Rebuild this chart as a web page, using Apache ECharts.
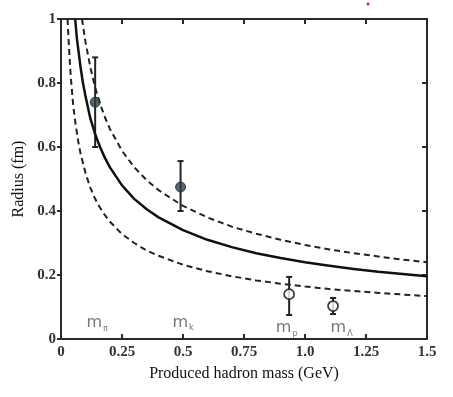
<!DOCTYPE html>
<html><head><meta charset="utf-8">
<script src="https://cdn.jsdelivr.net/npm/echarts@6/dist/echarts.min.js"></script>
<style>html,body{margin:0;padding:0;background:#fff}#c{width:453px;height:397px}</style>
</head><body><div id="c"></div>
<script>
// Curves: [mass (GeV), radius (fm)]
var solidCurve = [[0.058,1.0],[0.065,0.94],[0.07,0.91],[0.08,0.85],[0.09,0.80],[0.1,0.76],[0.12,0.69],[0.14,0.64],[0.16,0.60],[0.18,0.566],[0.2,0.537],[0.25,0.48],[0.3,0.438],[0.35,0.406],[0.4,0.38],[0.5,0.34],[0.6,0.31],[0.7,0.287],[0.8,0.268],[0.9,0.253],[1.0,0.24],[1.1,0.229],[1.2,0.219],[1.3,0.21],[1.4,0.203],[1.5,0.196]];
var upperCurve = [[0.086,1.0],[0.09,0.98],[0.1,0.93],[0.12,0.85],[0.14,0.786],[0.16,0.735],[0.18,0.693],[0.2,0.657],[0.25,0.588],[0.3,0.537],[0.35,0.497],[0.4,0.465],[0.5,0.416],[0.6,0.38],[0.7,0.351],[0.8,0.329],[0.9,0.31],[1.0,0.294],[1.1,0.28],[1.2,0.268],[1.3,0.258],[1.4,0.248],[1.5,0.24]];
var lowerCurve = [[0.027,1.0],[0.03,0.95],[0.035,0.88],[0.04,0.82],[0.05,0.73],[0.06,0.67],[0.07,0.62],[0.08,0.58],[0.1,0.52],[0.12,0.473],[0.14,0.438],[0.16,0.41],[0.18,0.387],[0.2,0.367],[0.25,0.328],[0.3,0.3],[0.35,0.277],[0.4,0.26],[0.5,0.232],[0.6,0.212],[0.7,0.196],[0.8,0.183],[0.9,0.173],[1.0,0.164],[1.1,0.156],[1.2,0.15],[1.3,0.144],[1.4,0.139],[1.5,0.134]];
// Measured points: [mass, radius, low, high]
var filledPoints = [[0.14,0.74,0.60,0.88],[0.49,0.475,0.40,0.556]];
var openPoints = [[0.935,0.14,0.075,0.194],[1.115,0.103,0.078,0.128]];
// Particle mass labels: [mass, radius, name, subscript]
var massLabels = [[0.148,0.05,'m','π'],[0.5,0.052,'m','k'],[0.925,0.034,'m','p'],[1.15,0.034,'m','Λ']];
var xTicks = ['0','0.25','0.5','0.75','1.0','1.25','1.5'];

var chart = echarts.init(document.getElementById('c'), null, {renderer:'canvas'});
var axisFont = {fontFamily:'Liberation Serif', fontWeight:'bold', fontSize:15, color:'#333'};
var lineCol = '#2a2a2a';

function errRender(params, api){
  var x = api.value(0);
  var lo = api.coord([x, api.value(2)]);
  var hi = api.coord([x, api.value(3)]);
  var st = {stroke:'#222', lineWidth:2};
  return {type:'group', children:[
    {type:'line', shape:{x1:lo[0],y1:lo[1],x2:hi[0],y2:hi[1]}, style:st},
    {type:'line', shape:{x1:lo[0]-3,y1:lo[1],x2:lo[0]+3,y2:lo[1]}, style:st},
    {type:'line', shape:{x1:hi[0]-3,y1:hi[1],x2:hi[0]+3,y2:hi[1]}, style:st}
  ]};
}

chart.setOption({
  animation:false,
  backgroundColor:'#fff',
  grid:{left:61, right:26, top:19, bottom:58, containLabel:false},
  xAxis:[{
    type:'value', min:0, max:1.5, interval:0.25,
    axisLine:{show:true, onZero:false, lineStyle:{color:lineCol, width:2}},
    axisTick:{show:true, inside:true, length:5, lineStyle:{color:lineCol, width:2}},
    axisLabel:Object.assign({margin:6, formatter:function(v){var i=Math.round(v/0.25);return xTicks[i];}}, axisFont),
    splitLine:{show:false},
    name:'Produced hadron mass (GeV)', nameLocation:'middle', nameGap:27,
    nameTextStyle:{fontFamily:'Liberation Serif', fontWeight:'normal', fontSize:16, color:'#111'}
  },{
    type:'value', position:'top', min:0, max:1.5, interval:0.25,
    axisLine:{show:true, onZero:false, lineStyle:{color:lineCol, width:2}},
    axisTick:{show:true, inside:true, length:5, lineStyle:{color:lineCol, width:2}},
    axisLabel:{show:false}, splitLine:{show:false}
  }],
  yAxis:[{
    type:'value', min:0, max:1, interval:0.2,
    axisLine:{show:true, onZero:false, lineStyle:{color:lineCol, width:2}},
    axisTick:{show:true, inside:false, length:4, lineStyle:{color:lineCol, width:2}},
    axisLabel:Object.assign({margin:5, formatter:function(v){return v===0?'0':(v===1?'1':v.toFixed(1));}}, axisFont),
    splitLine:{show:false},
    name:'Radius (fm)', nameLocation:'middle', nameGap:33, nameRotate:90,
    nameTextStyle:{fontFamily:'Liberation Serif', fontWeight:'normal', fontSize:16, color:'#111'}
  },{
    type:'value', position:'right', min:0, max:1, interval:0.2,
    axisLine:{show:true, onZero:false, lineStyle:{color:lineCol, width:2}},
    axisTick:{show:true, inside:true, length:5, lineStyle:{color:lineCol, width:2}},
    axisLabel:{show:false}, splitLine:{show:false}
  }],
  series:[
    {type:'line', data:solidCurve, smooth:false, showSymbol:false, clip:true,
     lineStyle:{color:'#111', width:2.5, join:'round'}},
    {type:'line', data:upperCurve, smooth:false, showSymbol:false, clip:true,
     lineStyle:{color:'#222', width:2, type:[6,4]}},
    {type:'line', data:lowerCurve, smooth:false, showSymbol:false, clip:true,
     lineStyle:{color:'#222', width:2, type:[6,4]}},
    {type:'custom', renderItem:errRender, data:filledPoints.concat(openPoints), z:3},
    {type:'scatter', data:filledPoints.map(function(p){return [p[0],p[1]];}), symbol:'circle', symbolSize:10,
     itemStyle:{color:'#2a3e46', borderColor:'#1a2a30', borderWidth:1}, z:5},
    {type:'scatter', data:openPoints.map(function(p){return [p[0],p[1]];}), symbol:'circle', symbolSize:10,
     itemStyle:{color:'#fff', borderColor:'#111', borderWidth:1.8}, z:5},
    {type:'scatter', symbolSize:0, silent:true, clip:false,
     data:massLabels.map(function(l){return [l[0],l[1]];}),
     label:{show:true, position:'inside',
       formatter:function(p){return '{m|'+massLabels[p.dataIndex][2]+'}{s|'+massLabels[p.dataIndex][3]+'}';},
       rich:{m:{fontFamily:'DejaVu Sans', fontSize:16, lineHeight:20, color:'#555', fontWeight:'normal'},
             s:{fontFamily:'DejaVu Sans', fontSize:8, lineHeight:20, color:'#555', verticalAlign:'bottom', padding:[0,0,0,1]}}}}
  ],
  graphic:[{type:'circle', shape:{cx:368, cy:4, r:1.5}, style:{fill:'#e02020'}}]
});
</script></body></html>
